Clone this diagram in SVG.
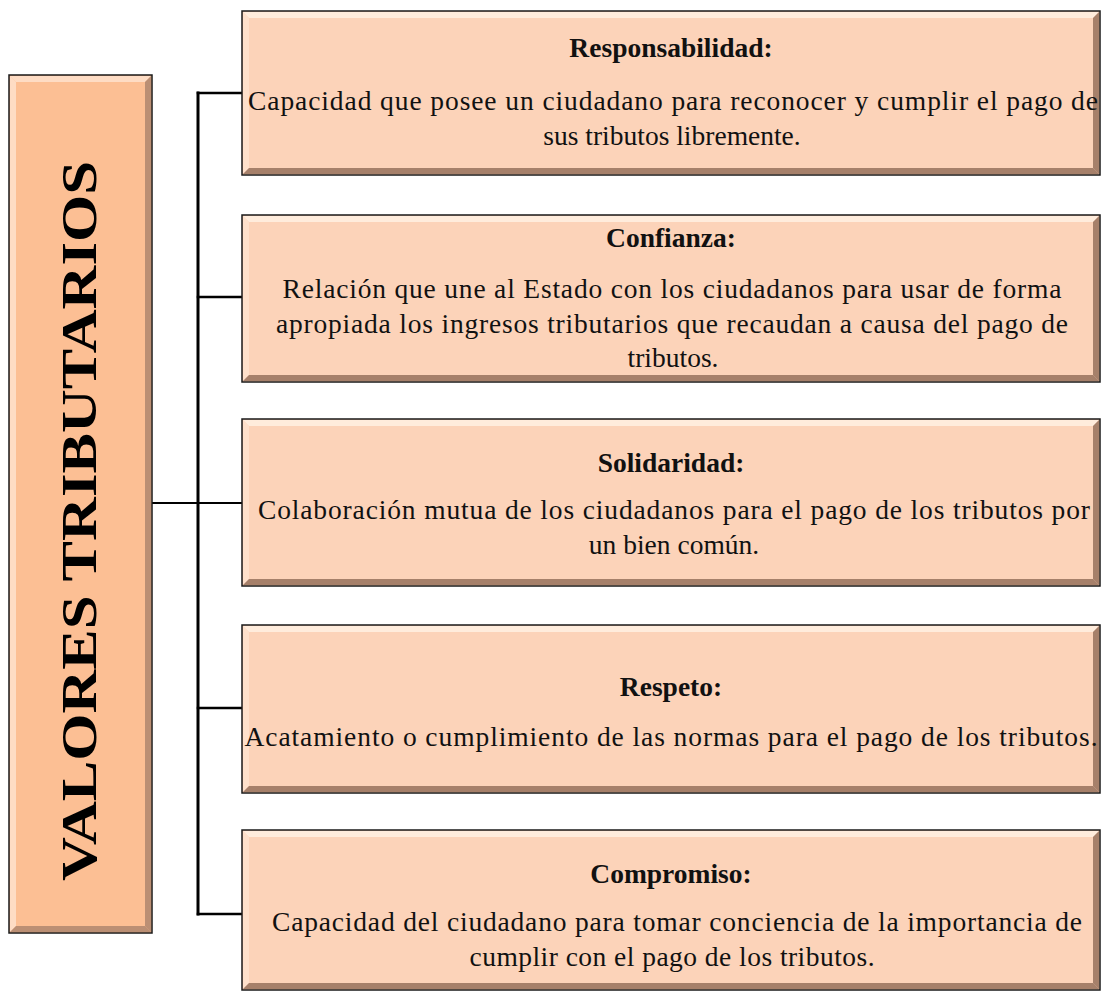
<svg xmlns="http://www.w3.org/2000/svg" width="1104" height="994" viewBox="0 0 1104 994">
<style>
.box{fill:#FCD3B9;stroke:#1a1a1a;stroke-width:1.5}
.main{fill:#FCBF94;stroke:#1a1a1a;stroke-width:1.5}
.hl{fill:#FFF0E2;opacity:0.85}
.hl2{fill:#FEE3D0;opacity:0.8}
.sh{fill:#8a6450;opacity:0.75}
.sh2{fill:#a07a66;opacity:0.7}
.t{font-family:"Liberation Serif","Times New Roman",serif;font-size:27.5px;fill:#111;text-anchor:middle}
.b{font-weight:bold}
.big{font-size:50px;fill:#000}
.conn{stroke:#000;fill:none;stroke-linecap:square}
</style>
<g id="connectors">
<line class="conn" x1="198" y1="93" x2="198" y2="914" stroke-width="3"/>
<line class="conn" x1="198" y1="93" x2="242" y2="93" stroke-width="2.5"/>
<line class="conn" x1="198" y1="297" x2="242" y2="297" stroke-width="2.5"/>
<line class="conn" x1="152" y1="503" x2="242" y2="503" stroke-width="2"/>
<line class="conn" x1="198" y1="708" x2="242" y2="708" stroke-width="2.5"/>
<line class="conn" x1="198" y1="914" x2="242" y2="914" stroke-width="2.5"/>
</g>
<g id="main">
<rect class="main" x="9" y="75" width="143" height="858"/>
<polygon class="hl2" points="10,76 151,76 145,82 16,82"/>
<polygon class="hl2" points="10,76 16,82 16,926 10,932"/>
<polygon class="sh2" points="151,76 151,932 145,926 145,82"/>
<polygon class="sh2" points="10,932 151,932 145,926 16,926"/>
<text class="t b big" transform="translate(96,521) rotate(-90)" textLength="720" lengthAdjust="spacingAndGlyphs">VALORES TRIBUTARIOS</text>
</g>
<g id="n1">
<rect class="box" x="242" y="11" width="858" height="164"/>
<polygon class="hl" points="243,12 1099,12 1093,18 249,18"/>
<polygon class="hl2" points="243,12 249,18 249,168 243,174"/>
<polygon class="sh" points="1099,12 1099,174 1093,168 1093,18"/>
<polygon class="sh" points="243,174 1099,174 1093,168 249,168"/>
<text class="t b" x="671" y="57">Responsabilidad:</text>
<text class="t" x="673" y="110" textLength="850" lengthAdjust="spacing">Capacidad que posee un ciudadano  para reconocer y cumplir  el pago de</text>
<text class="t" x="672" y="145">sus tributos  libremente.</text>
</g>
<g id="n2">
<rect class="box" x="242" y="215" width="858" height="167"/>
<polygon class="hl" points="243,216 1099,216 1093,222 249,222"/>
<polygon class="hl2" points="243,216 249,222 249,375 243,381"/>
<polygon class="sh" points="1099,216 1099,381 1093,375 1093,222"/>
<polygon class="sh" points="243,381 1099,381 1093,375 249,375"/>
<text class="t b" x="671" y="247">Confianza:</text>
<text class="t" x="672" y="298" textLength="779" lengthAdjust="spacing">Relación  que une al Estado con los ciudadanos  para usar de forma</text>
<text class="t" x="672" y="333" textLength="792" lengthAdjust="spacing">apropiada los ingresos  tributarios  que recaudan a causa del pago de</text>
<text class="t" x="673" y="367">tributos.</text>
</g>
<g id="n3">
<rect class="box" x="242" y="419" width="858" height="167"/>
<polygon class="hl" points="243,420 1099,420 1093,426 249,426"/>
<polygon class="hl2" points="243,420 249,426 249,579 243,585"/>
<polygon class="sh" points="1099,420 1099,585 1093,579 1093,426"/>
<polygon class="sh" points="243,585 1099,585 1093,579 249,579"/>
<text class="t b" x="671" y="472">Solidaridad:</text>
<text class="t" x="674" y="519" textLength="832" lengthAdjust="spacing">Colaboración  mutua  de los ciudadanos  para el pago de los tributos  por</text>
<text class="t" x="674" y="554">un bien  común.</text>
</g>
<g id="n4">
<rect class="box" x="242" y="625" width="858" height="168"/>
<polygon class="hl" points="243,626 1099,626 1093,632 249,632"/>
<polygon class="hl2" points="243,626 249,632 249,786 243,792"/>
<polygon class="sh" points="1099,626 1099,792 1093,786 1093,632"/>
<polygon class="sh" points="243,792 1099,792 1093,786 249,786"/>
<text class="t b" x="671" y="696">Respeto:</text>
<text class="t" x="671" y="746" textLength="853" lengthAdjust="spacing">Acatamiento  o cumplimiento  de las normas  para el pago de los tributos.</text>
</g>
<g id="n5">
<rect class="box" x="242" y="830" width="858" height="160"/>
<polygon class="hl" points="243,831 1099,831 1093,837 249,837"/>
<polygon class="hl2" points="243,831 249,837 249,983 243,989"/>
<polygon class="sh" points="1099,831 1099,989 1093,983 1093,837"/>
<polygon class="sh" points="243,989 1099,989 1093,983 249,983"/>
<text class="t b" x="671" y="883">Compromiso:</text>
<text class="t" x="677" y="931" textLength="810" lengthAdjust="spacing">Capacidad del ciudadano  para tomar  conciencia  de la importancia  de</text>
<text class="t" x="672" y="966" textLength="405" lengthAdjust="spacing">cumplir  con el pago de los tributos.</text>
</g>
</svg>
